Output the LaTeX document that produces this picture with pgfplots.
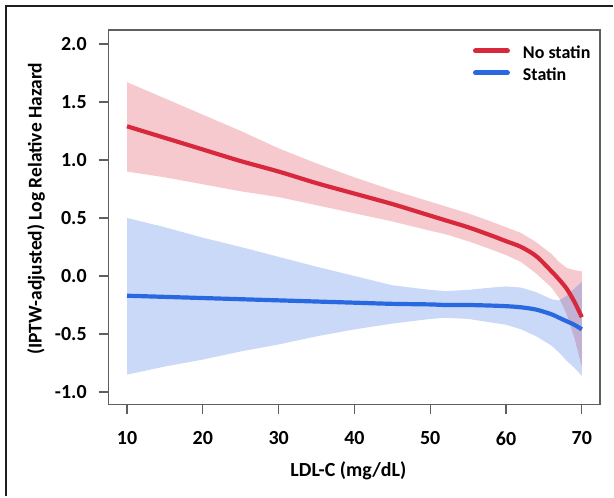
\documentclass[border=0pt]{standalone}
\usepackage{fontspec}
\setmainfont{Carlito}
\usepackage{pgfplots}
\usepackage{pgfplotstable}
\pgfplotsset{compat=1.18}
\usepgfplotslibrary{fillbetween}

\definecolor{nsred}{RGB}{215,40,60}
\definecolor{stblue}{RGB}{40,105,225}
\definecolor{boxgray}{RGB}{95,95,95}

% x, estimate, lower, upper
\pgfplotstableread{
x    est     lo     hi
10   1.29    0.90   1.67
15   1.19    0.85   1.53
20   1.09    0.79   1.39
25   0.99    0.73   1.25
30   0.90    0.68   1.10
35   0.80    0.61   0.97
40   0.71    0.54   0.85
45   0.62    0.47   0.74
50   0.52    0.39   0.64
52   0.48    0.36   0.60
55   0.42    0.30   0.54
58   0.35    0.23   0.47
60   0.30    0.18   0.42
62   0.25    0.12   0.37
64   0.17    0.02   0.29
66   0.04   -0.10   0.19
67  -0.03   -0.19   0.12
68  -0.11   -0.33   0.07
69  -0.22   -0.53   0.05
70  -0.355  -0.78   0.04
}\nostatin

\pgfplotstableread{
x    est     lo     hi
10  -0.17   -0.85   0.50
15  -0.18   -0.78   0.42
20  -0.19   -0.72   0.33
25  -0.20   -0.65   0.25
30  -0.21   -0.59   0.165
35  -0.22   -0.52   0.08
40  -0.23   -0.46   0.00
45  -0.24   -0.41  -0.08
50  -0.245  -0.37  -0.12
52  -0.25   -0.36  -0.13
55  -0.25   -0.37  -0.12
58  -0.255  -0.40  -0.10
60  -0.26   -0.42  -0.09
62  -0.27   -0.46  -0.10
64  -0.29   -0.52  -0.14
66  -0.33   -0.60  -0.20
67  -0.36   -0.66  -0.21
68  -0.39   -0.73  -0.17
69  -0.42   -0.79  -0.11
70  -0.46   -0.86  -0.05
}\statin

\begin{document}
\begin{tikzpicture}
% page area and outer frame of the figure
\path (0pt,0pt) rectangle (614pt,-497pt);
\draw[line width=2pt, black!88] (6pt,-497pt) -- (6pt,-6pt) -- (614pt,-6pt);

\begin{axis}[
  at={(109pt,-405pt)}, anchor=south west,
  width=492pt, height=375pt, scale only axis,
  xmin=7.6, xmax=72.4, ymin=-1.106, ymax=2.12,
  xtick={10,20,30,40,50,60,70},
  ytick={-1,-0.5,0,0.5,1,1.5,2},
  xtick pos=bottom, ytick pos=left,
  tick align=outside, major tick length=10pt,
  axis line style={boxgray, line width=1.3pt},
  tick style={boxgray, line width=1.3pt},
  /pgf/number format/assume math mode=true,
  tick label style={font=\bfseries\fontsize{20}{20}\selectfont, inner sep=0pt},
  yticklabel style={/pgf/number format/fixed, /pgf/number format/fixed zerofill,
    /pgf/number format/precision=1, xshift=-12pt},
  xticklabel style={yshift=-17pt},
  xlabel={LDL-C (mg/dL)},
  ylabel={(IPTW-adjusted) Log Relative Hazard},
  xlabel style={font=\bfseries\fontsize{20}{20}\selectfont,
    at={(axis description cs:0.4878,-0.1787)}, anchor=center},
  ylabel style={font=\bfseries\fontsize{19.5}{19.5}\selectfont,
    at={(axis description cs:-0.1484,0.5227)}, anchor=center},
  legend style={at={(axis description cs:0.741,0.9565)}, anchor=north west,
    draw=none, fill=none, inner sep=0pt, row sep=6pt, column sep=13pt,
    font=\bfseries\fontsize{18}{18}\selectfont,
    nodes={inner sep=0pt, text height=12pt, text depth=4pt},
    cells={anchor=base west}},
  legend image code/.code={%
    \path[draw=none, fill=none] (0pt,0pt) rectangle (37pt,12pt);
    \draw[#1, line width=5pt, line cap=round] (2.5pt,7.5pt) -- (34.5pt,7.5pt);},
]
% No statin band
\addplot[name path=rhi, draw=none, forget plot] table[x=x, y=hi] {\nostatin};
\addplot[name path=rlo, draw=none, forget plot] table[x=x, y=lo] {\nostatin};
\addplot[fill=nsred, fill opacity=0.25, draw=none, forget plot] fill between[of=rhi and rlo];
\addplot[nsred, line width=4.2pt, smooth] table[x=x, y=est] {\nostatin};
\addlegendentry{No statin}
% Statin band
\addplot[name path=bhi, draw=none, forget plot] table[x=x, y=hi] {\statin};
\addplot[name path=blo, draw=none, forget plot] table[x=x, y=lo] {\statin};
\addplot[fill=stblue, fill opacity=0.25, draw=none, forget plot] fill between[of=bhi and blo];
\addplot[stblue, line width=4.2pt, smooth] table[x=x, y=est] {\statin};
\addlegendentry{Statin}
\end{axis}
\end{tikzpicture}
\end{document}
